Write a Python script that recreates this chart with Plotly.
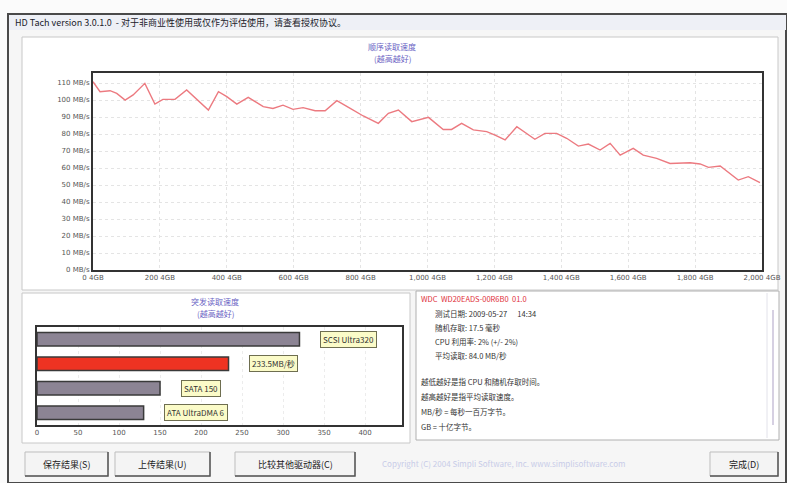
import plotly.graph_objects as go

W, H = 787, 483

# ---------------- data ----------------
pos_gb = [0, 21, 51, 71, 96, 120, 155, 185, 209, 245, 280, 310, 345, 375, 400, 430, 464, 509, 538, 568,
          598, 628, 664, 694, 729, 769, 808, 853, 883, 913, 953, 1003, 1047, 1072, 1102, 1137, 1177, 1202,
          1232, 1267, 1321, 1351, 1386, 1416, 1451, 1481, 1516, 1546, 1576, 1615, 1645, 1685, 1725, 1785,
          1815, 1840, 1875, 1929, 1959, 1994]
read_mbs = [110.8, 104.9, 105.5, 103.9, 100.0, 103.0, 109.8, 97.6, 100.4, 100.4, 105.9, 100.4, 94.1, 104.9,
            102.0, 97.6, 101.6, 96.1, 95.0, 97.0, 94.5, 95.5, 93.7, 93.7, 99.6, 95.1, 90.6, 86.3, 92.2, 94.1,
            87.3, 89.8, 82.7, 82.7, 86.3, 82.4, 81.4, 79.4, 76.5, 84.3, 76.9, 80.4, 80.4, 77.5, 72.9, 74.1,
            70.6, 74.5, 67.6, 71.6, 67.6, 65.7, 62.7, 63.1, 62.4, 60.4, 61.2, 52.9, 54.9, 51.4]

x_tick_vals = [0, 200, 400, 600, 800, 1000, 1200, 1400, 1600, 1800, 2000]
x_tick_text = ["0 4GB", "200 4GB", "400 4GB", "600 4GB", "800 4GB", "1,000 4GB", "1,200 4GB",
               "1,400 4GB", "1,600 4GB", "1,800 4GB", "2,000 4GB"]
y_tick_vals = [0, 10, 20, 30, 40, 50, 60, 70, 80, 90, 100, 110]
y_tick_text = [f"{v} MB/s" for v in y_tick_vals]

burst_names = ["SCSI Ultra320", "233.5MB/秒", "SATA 150", "ATA UltraDMA 6"]
burst_values = [320, 233.5, 150, 130]
burst_colors = ["#8c8494", "#ee3322", "#8c8494", "#8c8494"]
burst_ticks = [0, 50, 100, 150, 200, 250, 300, 350, 400]

info_header = "WDC  WD20EADS-00R6B0  01.0"
info_lines = ["测试日期: 2009-05-27      14:34",
              "随机存取: 17.5 毫秒",
              "CPU 利用率: 2% (+/- 2%)",
              "平均读取: 84.0 MB/秒"]
note_lines = ["越低越好是指 CPU 和随机存取时间。",
              "越高越好是指平均读取速度。",
              "MB/秒 = 每秒一百万字节。",
              "GB = 十亿字节。"]
buttons = ["保存结果(S)", "上传结果(U)", "比较其他驱动器(C)", "完成(D)"]

# ---------------- helpers (pixel -> paper) ----------------
def px(x):
    return x / W

def py(y):
    return 1 - y / H

FONT = "Noto Sans CJK SC, DejaVu Sans, sans-serif"

fig = go.Figure()

fig.add_trace(go.Scatter(x=pos_gb, y=read_mbs, mode="lines",
                         line=dict(color="#ec7a80", width=1.4),
                         xaxis="x", yaxis="y", hoverinfo="skip"))

fig.add_trace(go.Bar(x=burst_values, y=list(range(len(burst_names))), orientation="h",
                     marker=dict(color=burst_colors, line=dict(color="#3a3a3a", width=1.5)),
                     width=0.55, xaxis="x2", yaxis="y2", hoverinfo="skip"))

shapes = []
annotations = []


def note(x, y, text, size=8, color="#333333", xanchor="left", **kw):
    annotations.append(dict(x=px(x), y=py(y), xref="paper", yref="paper", xanchor=xanchor,
                            yanchor="middle", text=text, showarrow=False,
                            font=dict(size=size, color=color, family=FONT), **kw))


# window / panels
shapes.append(dict(type="rect", xref="paper", yref="paper", x0=px(8), x1=px(786), y0=py(483), y1=py(14),
                   line=dict(color="#4a4a4a", width=2), fillcolor="#f6f6f6", layer="below"))
shapes.append(dict(type="rect", xref="paper", yref="paper", x0=px(9), x1=px(786), y0=py(30), y1=py(15),
                   line=dict(width=0), fillcolor="#eef0f6", layer="below"))
shapes.append(dict(type="rect", xref="paper", yref="paper", x0=px(22), x1=px(778), y0=py(290), y1=py(37),
                   line=dict(color="#c8c8c8", width=1), fillcolor="#ffffff", layer="below"))
shapes.append(dict(type="rect", xref="paper", yref="paper", x0=px(22), x1=px(410), y0=py(443), y1=py(293),
                   line=dict(color="#c8c8c8", width=1), fillcolor="#ffffff", layer="below"))
shapes.append(dict(type="rect", xref="paper", yref="paper", x0=px(416), x1=px(779), y0=py(440), y1=py(291),
                   line=dict(color="#b0b0b0", width=1), fillcolor="#ffffff", layer="below"))
# scrollbar
shapes.append(dict(type="line", xref="paper", yref="paper", x0=px(767), x1=px(767), y0=py(438), y1=py(293),
                   line=dict(color="#e2e2ea", width=1)))
shapes.append(dict(type="line", xref="paper", yref="paper", x0=px(773), x1=px(773), y0=py(425), y1=py(310),
                   line=dict(color="#c8c0d8", width=1.5)))

# buttons
btn_boxes = [(25, 108), (115, 210), (235, 355), (710, 778)]
for (x0, x1), label in zip(btn_boxes, buttons):
    shapes.append(dict(type="rect", xref="paper", yref="paper", x0=px(x0), x1=px(x1), y0=py(476), y1=py(452),
                       line=dict(color="#bdbdbd", width=1), fillcolor="#f4f4f4", layer="below"))
    shapes.append(dict(type="path", xref="paper", yref="paper",
                       path=f"M {px(x0)},{py(476)} L {px(x1)},{py(476)} L {px(x1)},{py(452)}",
                       line=dict(color="#555555", width=1.5)))
    note((x0 + x1) / 2, 464, label, size=9, color="#222222", xanchor="center")

# title bar text
note(13, 22, "HD Tach version 3.0.1.0  - 对于非商业性使用或仅作为评估使用，请查看授权协议。",
     size=9, color="#1a1a2a")

# chart titles
for txt, y in [("顺序读取速度", 46), ("(越高越好)", 58)]:
    note(392, y, txt, size=8, color="#6b63c4", xanchor="center")
for txt, y in [("突发读取速度", 301), ("(越高越好)", 313)]:
    note(215, y, txt, size=8, color="#6b63c4", xanchor="center")

# burst labels
for i, (name, v) in enumerate(zip(burst_names, burst_values)):
    annotations.append(dict(x=v + 25, y=i, xref="x2", yref="y2", xanchor="left", yanchor="middle",
                            text=name, showarrow=False, bgcolor="#fbfbc8", bordercolor="#6e6e50",
                            borderwidth=1, borderpad=2, font=dict(size=8, color="#333333", family=FONT)))

# info panel text
note(419, 298, info_header, size=7.5, color="#e0303a")
for i, line in enumerate(info_lines):
    note(433, 313 + i * 14, line, size=7.5)
for i, line in enumerate(note_lines):
    note(419, 381 + i * 15, line, size=7.5)

# faint footer text
note(380, 463, "Copyright (C) 2004 Simpli Software, Inc. www.simplisoftware.com", size=8, color="#c8cce8")

axis_font = dict(size=7, color="#555555", family="DejaVu Sans, sans-serif")

fig.update_layout(
    width=W, height=H,
    margin=dict(l=0, r=0, t=0, b=0, autoexpand=False),
    paper_bgcolor="#fbfbfb",
    plot_bgcolor="#ffffff",
    showlegend=False,
    shapes=shapes,
    annotations=annotations,
    xaxis=dict(domain=[px(93), px(762)], anchor="y", range=[0, 2000], automargin=False,
               tickvals=x_tick_vals, ticktext=x_tick_text, tickfont=axis_font,
               showgrid=True, gridcolor="#e4e4e4", griddash="dot", zeroline=False,
               showline=True, linecolor="#333333", linewidth=2, mirror=True, ticks="", ticklen=0),
    yaxis=dict(domain=[py(270), py(73)], anchor="x", range=[0, 115.9], automargin=False,
               tickvals=y_tick_vals, ticktext=y_tick_text, tickfont=axis_font,
               showgrid=True, gridcolor="#e4e4e4", griddash="dot", zeroline=False,
               showline=True, linecolor="#333333", linewidth=2, mirror=True, ticks=""),
    xaxis2=dict(domain=[px(37), px(402)], anchor="y2", range=[0, 445], automargin=False,
                tickvals=burst_ticks, tickfont=axis_font,
                showgrid=True, gridcolor="#ececec", griddash="dot", zeroline=False,
                showline=True, linecolor="#333333", linewidth=2, mirror=True, ticks=""),
    yaxis2=dict(domain=[py(425), py(327)], anchor="x2", range=[3.5, -0.5], automargin=False,
                showticklabels=False, showgrid=False, zeroline=False,
                showline=True, linecolor="#333333", linewidth=2, mirror=True, ticks=""),
)

fig.write_html("out.html", config={"displayModeBar": False},
               post_script="document.body.style.margin='0px';document.body.style.overflow='hidden';")
